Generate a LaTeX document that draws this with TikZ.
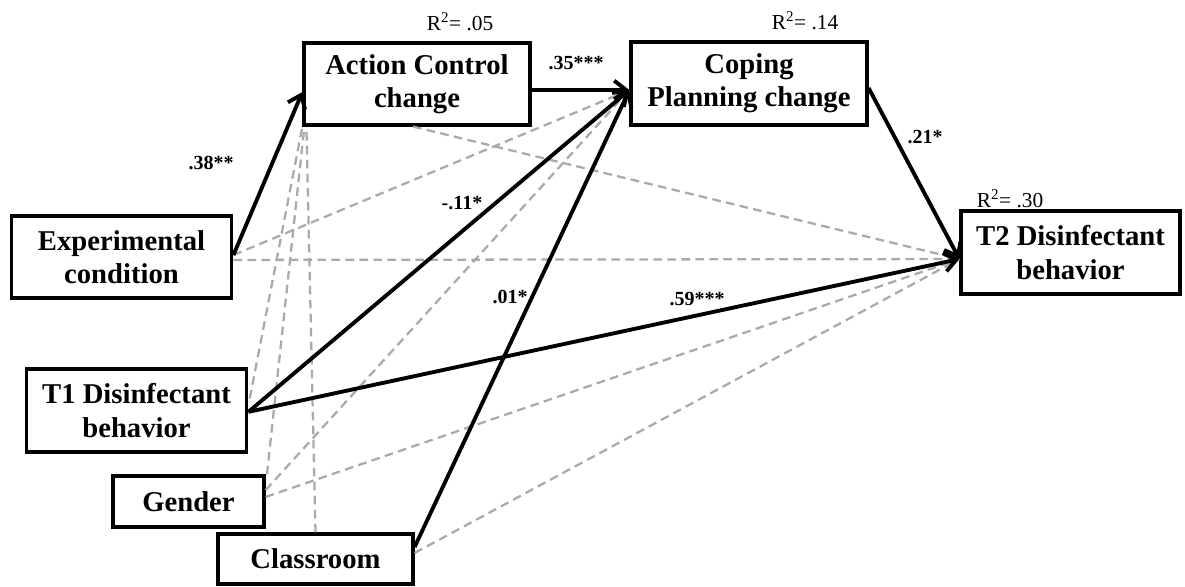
\documentclass[tikz,border=0pt]{standalone}
\usepackage{fontspec}
\setmainfont{Liberation Serif}
\usetikzlibrary{arrows.meta}
\begin{document}
\begin{tikzpicture}[x=0.75pt,y=-0.75pt,
  box/.style={draw, line width=2.9pt, inner sep=0pt, align=center,
    font=\fontsize{21.5}{25}\selectfont\bfseries},
  path/.style={line width=2.9pt, -{Straight Barb[length=9pt,width=14pt]}},
  nspath/.style={draw={rgb,255:red,170;green,170;blue,170}, line width=1.7pt, dash pattern=on 6.5pt off 4pt},
  coef/.style={font=\fontsize{15}{17}\selectfont\bfseries, inner sep=0pt},
  rsq/.style={font=\fontsize{16}{18}\selectfont, inner sep=0pt}
]
\useasboundingbox (0,0) rectangle (1185,586);

% boxes
\node[box, minimum width=165pt, minimum height=61pt] (exp) at (121.5,257) {Experimental\\condition};
\node[box, minimum width=169pt, minimum height=61pt] (ac) at (417,84) {Action Control\\change};
\node[box, minimum width=176.5pt, minimum height=61.75pt] (cp) at (749,83.5) {Coping\\Planning change};
\node[box, minimum width=163.75pt, minimum height=61.75pt] (t2) at (1070.5,252.5) {T2 Disinfectant\\behavior};
\node[box, minimum width=165pt, minimum height=61.75pt] (t1) at (136.5,410.5) {T1 Disinfectant\\behavior};
\node[box, minimum width=112.75pt, minimum height=37.75pt] (gen) at (188.5,501.5) {Gender};
\node[box, minimum width=145.75pt, minimum height=37pt] (cls) at (315.5,559) {Classroom};

% non-significant (dashed) paths
\draw[nspath] ([yshift=1.5pt]exp.east) -- ([yshift=-4.9pt]cp.west);
\draw[nspath] ([yshift=-2.2pt]exp.east) -- ([yshift=-4.9pt]t2.west);
\draw[nspath] ([xshift=-3pt]ac.south) -- ([yshift=-4.9pt]t2.west);
\draw[nspath] ([yshift=9pt,xshift=1pt]t1.east) -- ([xshift=0pt]ac.south west);
\draw[nspath] ([xshift=1pt]gen.north east) -- ([xshift=1.5pt]ac.south west);
\draw[nspath] (cls.north) -- ([xshift=3pt]ac.south west);
\draw[nspath] ([yshift=8.5pt]gen.east) -- ([yshift=-4.9pt]cp.west);
\draw[nspath] ([yshift=3.4pt]gen.east) -- ([yshift=-4.9pt]t2.west);
\draw[nspath] ([yshift=4.5pt]cls.east) -- ([yshift=-4.9pt]t2.west);

% significant paths
\draw[path] ([yshift=1.5pt]exp.east) -- ([yshift=-6pt]ac.west);
\draw[path] ([yshift=-4.5pt]ac.east) -- ([yshift=-4.9pt]cp.west);
\draw[path] ([yshift=-1pt]t1.east) -- ([yshift=-4.9pt]cp.west);
\draw[path] ([yshift=-1pt]t1.east) -- ([yshift=-4.9pt]t2.west);
\draw[path] ([yshift=9pt]cls.east) -- ([yshift=-4.9pt]cp.west);
\draw[path] ([yshift=-3.4pt]cp.east) -- ([yshift=-4.9pt]t2.west);

% coefficients
\node[coef] (c38) at (211,163) {.38**};
\node[coef] (c35) at (576,63) {.35***};
\node[coef] (c11) at (462,203) {-.11*};
\node[coef] (c01) at (510,297) {.01*};
\node[coef] (c21) at (925,137) {.21*};
\node[coef] (c59) at (697,299) {.59***};

% R squared
\node[rsq] (r1) at (460,22) {R\textsuperscript{2}= .05};
\node[rsq] (r2) at (805,21) {R\textsuperscript{2}= .14};
\node[rsq] (r3) at (1010,199) {R\textsuperscript{2}= .30};
\end{tikzpicture}
\end{document}
